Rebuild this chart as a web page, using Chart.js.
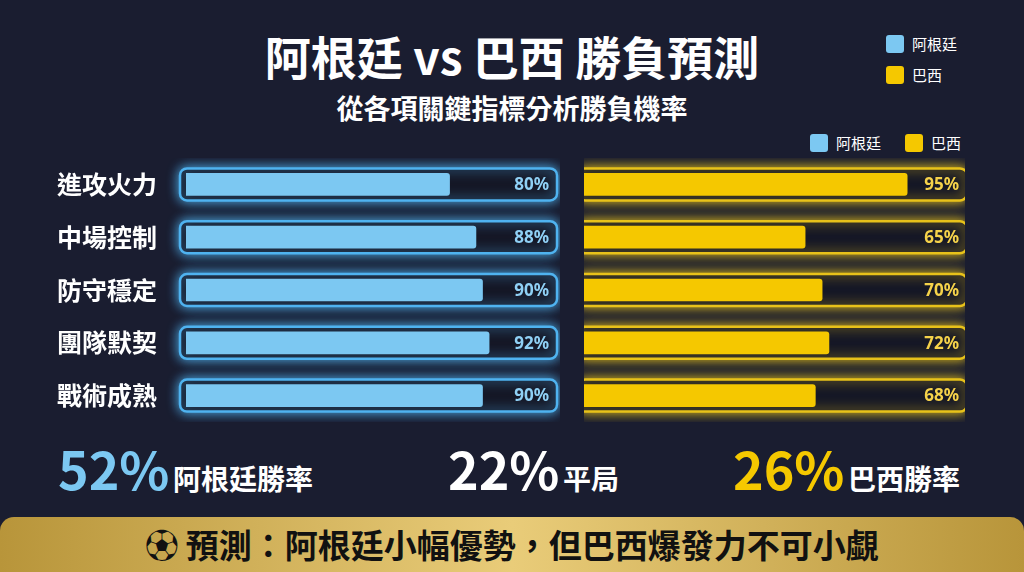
<!DOCTYPE html>
<html>
<head>
<meta charset="utf-8">
<script src="https://cdn.jsdelivr.net/npm/chart.js@4.4.1/dist/chart.umd.min.js"></script>
<style>
  body { margin: 0; width: 1024px; height: 572px; background: #1a1d30; overflow: hidden;
         font-family: "Noto Sans CJK TC", "Noto Sans", sans-serif; color: #fff; position: relative; }
  .abs { position: absolute; }
  #title { top: 22px; left: 0; width: 1024px; text-align: center; font-size: 46px; font-weight: 700; }
  #sub { top: 88px; left: 0; width: 1024px; text-align: center; font-size: 27px; font-weight: 700; }
  .sw { display: inline-block; width: 18px; height: 18px; border-radius: 3px; vertical-align: -3px; margin-right: 8px; }
  .leg { font-size: 15px; }
  .big { font-size: 52px; font-weight: 700; }
  .lbl { font-size: 28px; font-weight: 700; }
  #banner { left: 0; top: 517px; width: 1024px; height: 55px; border-radius: 14px 14px 0 0;
            background: linear-gradient(90deg, #b8953a, #e9cc79 50%, #b8953a);
            color: #111; font-size: 33px; font-weight: 700; text-align: center; line-height: 55px; }
</style>
</head>
<body>
<div id="title" class="abs">阿根廷 vs 巴西 勝負預測</div>
<div id="sub" class="abs">從各項關鍵指標分析勝負機率</div>
<div class="abs leg" style="left:886px;top:33px"><span class="sw" style="background:#7cc8f2"></span>阿根廷</div>
<div class="abs leg" style="left:886px;top:64px"><span class="sw" style="background:#f5c800"></span>巴西</div>
<div class="abs leg" style="left:810px;top:132px"><span class="sw" style="background:#7cc8f2"></span>阿根廷</div>
<div class="abs leg" style="left:905px;top:132px"><span class="sw" style="background:#f5c800"></span>巴西</div>

<div class="abs" style="left:50px;top:158px;width:510px;height:264px"><canvas id="argChart"></canvas></div>
<div class="abs" style="left:584px;top:158px;width:381px;height:264px"><canvas id="braChart"></canvas></div>

<div class="abs" style="left:58px;top:430px"><span class="big" style="color:#7cc8f2">52%</span> <span class="lbl">阿根廷勝率</span></div>
<div class="abs" style="left:448px;top:430px"><span class="big">22%</span> <span class="lbl">平局</span></div>
<div class="abs" style="left:733px;top:430px"><span class="big" style="color:#f5c800">26%</span> <span class="lbl">巴西勝率</span></div>
<div id="banner" class="abs">⚽ 預測：阿根廷小幅優勢，但巴西爆發力不可小覷</div>

<script>
const categories = ['進攻火力', '中場控制', '防守穩定', '團隊默契', '戰術成熟'];
const argentinaValues = [80, 88, 90, 92, 90];
const brazilValues = [95, 65, 70, 72, 68];

// Glowing track behind each bar plus the percent label inside it
const trackPlugin = {
    id: 'track',
    beforeDatasetsDraw(chart) {
        const ctx = chart.ctx;
        const area = chart.chartArea;
        const color = chart.options.plugins.track.color;
        chart.getDatasetMeta(0).data.forEach(bar => {
            ctx.save();
            ctx.strokeStyle = color;
            ctx.lineWidth = 2.5;
            ctx.shadowColor = color;
            ctx.shadowBlur = 12;
            ctx.fillStyle = '#151726';
            ctx.beginPath();
            ctx.roundRect(area.left - 6, bar.y - 16, area.right - area.left + 8, 32, 7);
            ctx.fill();
            ctx.stroke();
            ctx.restore();
        });
    },
    afterDatasetsDraw(chart) {
        const ctx = chart.ctx;
        const area = chart.chartArea;
        const opts = chart.options.plugins.track;
        const values = chart.data.datasets[0].data;
        chart.getDatasetMeta(0).data.forEach((bar, i) => {
            ctx.save();
            ctx.fillStyle = opts.textColor;
            ctx.font = 'bold 17px "Noto Sans", sans-serif';
            ctx.textAlign = 'right';
            ctx.textBaseline = 'middle';
            ctx.fillText(values[i] + '%', area.right - 6, bar.y + 1);
            ctx.restore();
        });
    }
};

function makeChart(id, values, fill, glow, textColor, showLabels) {
    return new Chart(document.getElementById(id), {
        type: 'bar',
        data: {
            labels: categories,
            datasets: [{ data: values, backgroundColor: fill, borderRadius: 3, barThickness: 22 }]
        },
        options: {
            indexAxis: 'y',
            responsive: true,
            maintainAspectRatio: false,
            animation: false,
            layout: { padding: { left: showLabels ? 7 : 0, right: showLabels ? 5 : 0 } },
            plugins: {
                legend: { display: false },
                tooltip: { enabled: false },
                track: { color: glow, textColor: textColor }
            },
            scales: {
                x: { display: false, min: 0, max: 112 },
                y: {
                    display: showLabels,
                    grid: { display: false },
                    border: { display: false },
                    afterFit: s => {
                        if (showLabels) s.width = 129;
                        s.paddingTop = 0;
                        s.paddingBottom = 0;
                    },
                    ticks: {
                        color: '#ffffff',
                        crossAlign: 'far',
                        font: { size: 25, weight: 'bold', family: '"Noto Sans CJK TC", sans-serif' }
                    }
                }
            }
        },
        plugins: [trackPlugin]
    });
}

makeChart('argChart', argentinaValues, '#7cc8f2', '#4fb3f0', '#8fd0f5', true);
makeChart('braChart', brazilValues, '#f5c800', '#e8c21a', '#f5d24a', false);
</script>
</body>
</html>
